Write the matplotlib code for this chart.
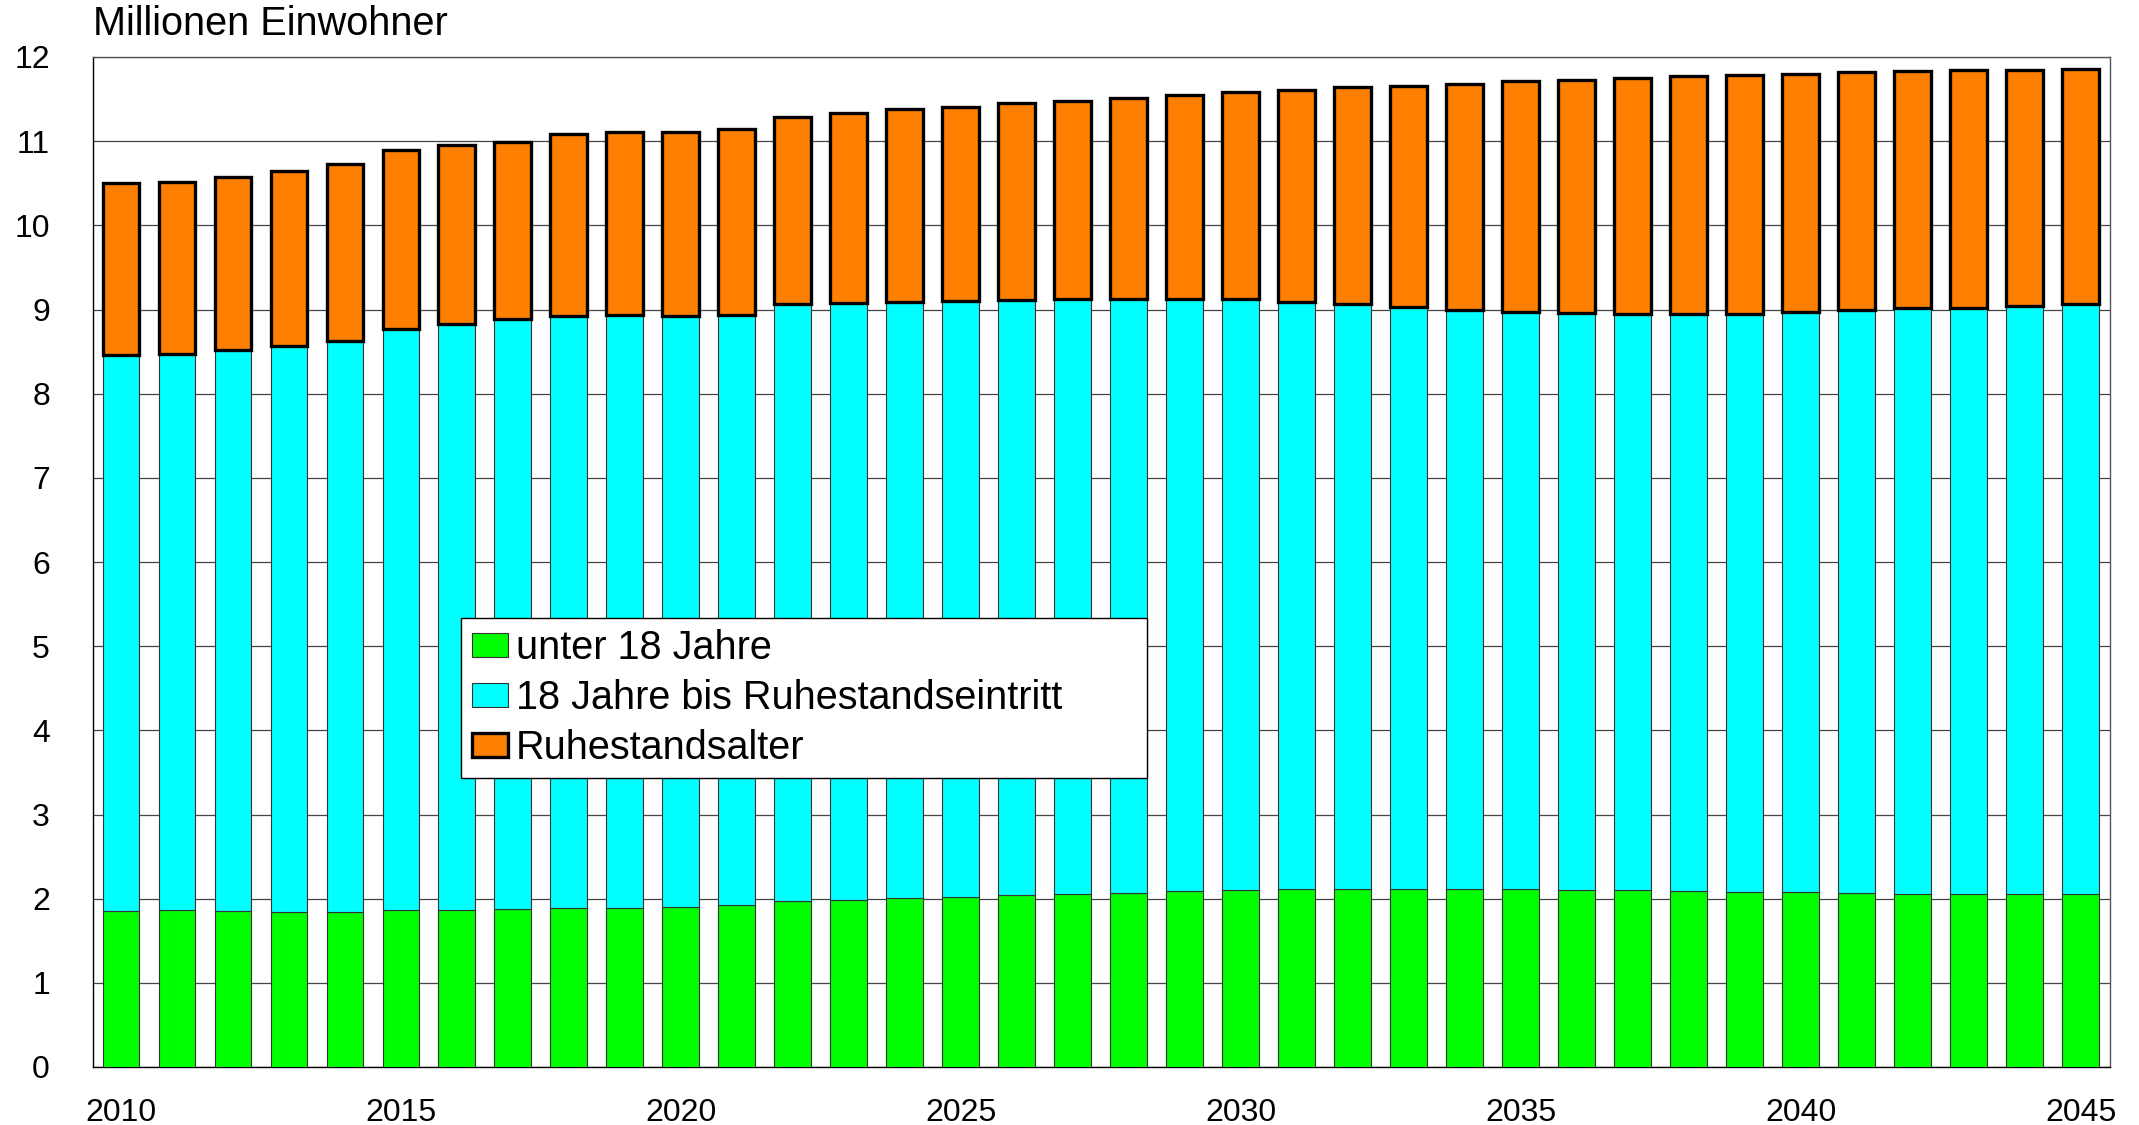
import matplotlib
matplotlib.use('Agg')
import matplotlib.pyplot as plt
import numpy as np

plt.rcParams['font.family'] = ['Liberation Sans', 'DejaVu Sans']

# Jahre 2010 - 2045
years = list(range(2010, 2046))

# Millionen Einwohner je Altersgruppe
unter18 = [1.85, 1.86, 1.85, 1.84, 1.84, 1.86, 1.87, 1.88, 1.885, 1.89,
           1.905, 1.92, 1.97, 1.99, 2.01, 2.02, 2.04, 2.055, 2.07, 2.09,
           2.10, 2.11, 2.12, 2.12, 2.12, 2.11, 2.105, 2.10, 2.095, 2.085,
           2.085, 2.07, 2.06, 2.055, 2.05, 2.05]
erwerbsalter = [6.61, 6.61, 6.67, 6.73, 6.79, 6.91, 6.96, 7.01, 7.035, 7.05,
                7.015, 7.01, 7.09, 7.09, 7.08, 7.08, 7.07, 7.065, 7.05, 7.04,
                7.02, 6.98, 6.94, 6.91, 6.88, 6.86, 6.855, 6.85, 6.85, 6.865,
                6.885, 6.92, 6.96, 6.965, 6.99, 7.01]
ruhestand = [2.04, 2.05, 2.06, 2.07, 2.10, 2.12, 2.13, 2.10, 2.16, 2.17,
             2.19, 2.21, 2.23, 2.26, 2.29, 2.31, 2.34, 2.36, 2.39, 2.42,
             2.46, 2.52, 2.58, 2.63, 2.68, 2.74, 2.77, 2.80, 2.825, 2.84,
             2.83, 2.83, 2.81, 2.82, 2.81, 2.80]

labels = ['unter 18 Jahre', '18 Jahre bis Ruhestandseintritt', 'Ruhestandsalter']
xticks = [2010, 2015, 2020, 2025, 2030, 2035, 2040, 2045]

fig = plt.figure(figsize=(21.39, 11.25), dpi=100)
ax = fig.add_axes([93/2139, 1-1067/1125, 2017/2139, 1010/1125])

u = np.array(unter18)
e = np.array(erwerbsalter)
r = np.array(ruhestand)
w = 0.66
ax.bar(years, u, width=w, color='#00FF00', edgecolor='#333333', linewidth=0.8,
       label=labels[0], zorder=3)
ax.bar(years, e, width=w, bottom=u, color='#00FFFF', edgecolor='#333333',
       linewidth=0.8, label=labels[1], zorder=3)
ax.bar(years, r, width=w, bottom=u+e, color='#FF8000', edgecolor='black',
       linewidth=2.4, label=labels[2], zorder=3)

ax.set_xlim(2009.5, 2045.52)
ax.set_ylim(0, 12)
ax.set_yticks(range(0, 13))
ax.set_xticks(xticks)
ax.yaxis.grid(True, color='#444444', linewidth=0.9, zorder=0)
ax.set_axisbelow(True)
ax.tick_params(axis='both', length=0, labelsize=23)
ax.tick_params(axis='y', pad=31)
ax.tick_params(axis='x', pad=22)
for s in ax.spines.values():
    s.set_color('#555555')
    s.set_linewidth(1.0)
ax.spines['left'].set_color('black')
ax.spines['bottom'].set_color('black')

fig.text(93/2139, 1-35/1125, 'Millionen Einwohner', fontsize=28.5,
         ha='left', va='baseline')

leg = ax.legend(loc='upper left', bbox_to_anchor=(0.1825, 0.4446, 0.340, 0),
                mode='expand', fontsize=28.5, frameon=True, fancybox=False,
                borderaxespad=0, borderpad=0.28, handlelength=0.9,
                handleheight=0.55, handletextpad=0.2, labelspacing=0.3)
leg.get_frame().set_edgecolor('black')
leg.get_frame().set_linewidth(1.0)
leg.get_frame().set_alpha(1)

fig.savefig('out.png', dpi=100)
